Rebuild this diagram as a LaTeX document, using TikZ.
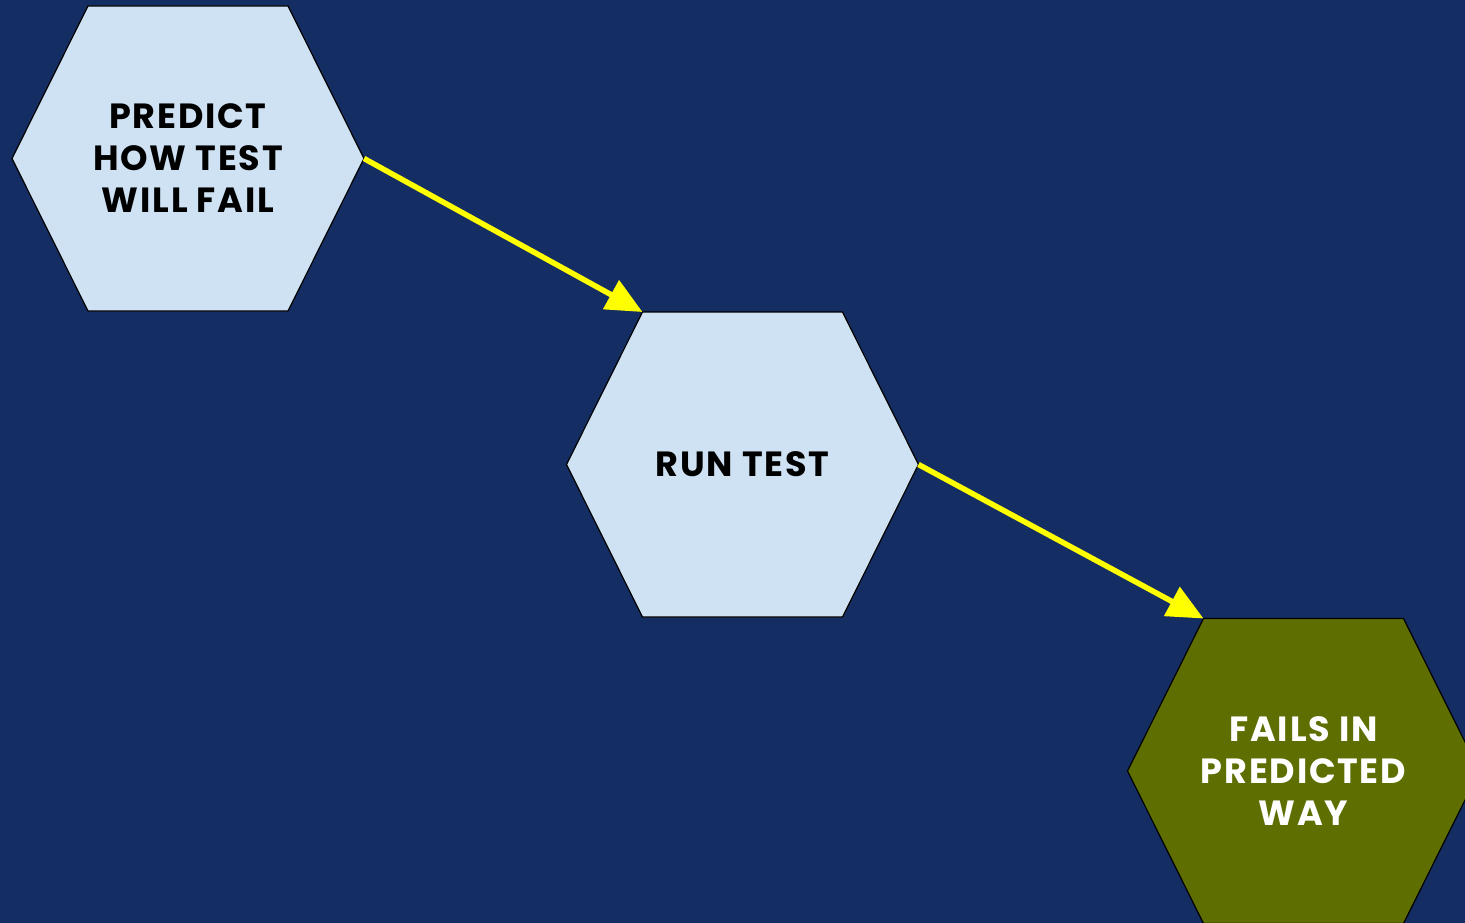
\documentclass[tikz,border=0pt]{standalone}
\usepackage{fontspec}
\setmainfont{Poppins}[BoldFont={* Bold}]
\usetikzlibrary{arrows.meta}
\definecolor{navy}{HTML}{142D63}
\definecolor{paleblue}{HTML}{CFE2F3}
\definecolor{olive}{HTML}{5F6E00}
\definecolor{flowyellow}{HTML}{FFFF00}
\tikzset{
  hexbox/.style={rectangle, minimum width=352pt, minimum height=305pt,
    inner sep=0pt, outer sep=0pt, align=center,
    font=\fontsize{35}{42}\selectfont\bfseries\addfontfeatures{LetterSpace=5}},
  hexedge/.style={draw=black, line width=1.2pt, line join=miter},
  stepfill/.style={fill=paleblue},
  goalfill/.style={fill=olive},
  flow/.style={draw=flowyellow, line width=5.5pt,
    -{Triangle[length=36pt,width=32pt,fill=flowyellow]}}
}
% hexagon outline around a named box: slanted sides reach 76pt inwards
\newcommand{\hexoutline}[2]{%
  \path[hexedge,#2] (#1.west) -- ([xshift=76pt]#1.north west)
    -- ([xshift=-76pt]#1.north east) -- (#1.east)
    -- ([xshift=-76pt]#1.south east) -- ([xshift=76pt]#1.south west) -- cycle;}
\begin{document}
\begin{tikzpicture}[x=1pt,y=-1pt]
  \useasboundingbox (0,0) rectangle (1465,923);
  \fill[navy] (0,0) rectangle (1465,923);
  \clip (0,0) rectangle (1465,923);
  \coordinate (p0) at (188,158.5);
  \coordinate (r0) at (742.5,464.5);
  \coordinate (f0) at (1303.5,771);
  \node[hexbox] (predict) at (p0) {};
  \node[hexbox] (run) at (r0) {};
  \node[hexbox] (fails) at (f0) {};
  \hexoutline{predict}{stepfill}
  \hexoutline{run}{stepfill}
  \hexoutline{fails}{goalfill}
  \node[hexbox, text=black] at (p0) {PREDICT\\HOW TEST\\WILL FAIL};
  \node[hexbox, text=black] at (r0) {RUN TEST};
  \node[hexbox, text=white] at (f0) {FAILS IN\\PREDICTED\\WAY};
  \draw[flow] (predict.east) -- ([xshift=76pt]run.north west);
  \draw[flow] (run.east) -- ([xshift=76pt]fails.north west);
\end{tikzpicture}
\end{document}
